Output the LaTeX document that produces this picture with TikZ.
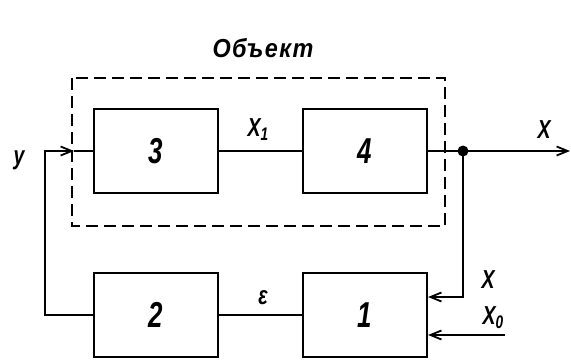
\documentclass[tikz,border=0pt]{standalone}
\usepackage{fontspec}
\setmainfont{Liberation Sans}
\usetikzlibrary{arrows.meta}
\begin{document}
\begin{tikzpicture}[x=1pt,y=-1pt,line width=2.2pt,
  blk/.style={draw,minimum width=124pt,minimum height=84pt,inner sep=0pt},
  num/.style={font=\fontsize{36}{36}\selectfont\bfseries\itshape,inner sep=0pt,xscale=0.72},
  lbl/.style={font=\fontsize{26}{26}\selectfont\bfseries\itshape,inner sep=0pt,xscale=0.75},
  arr/.style={-{Straight Barb[length=11pt,width=9pt,line width=1.8pt]}}]
\useasboundingbox (0,0) rectangle (571,361);
% dashed object frame
\draw[dash pattern=on 12pt off 6pt] (72,78) rectangle (445,226);
\node[font=\fontsize{26}{26}\selectfont\bfseries\itshape\addfontfeatures{LetterSpace=6},inner sep=0pt,xscale=0.9] (obj) at (263,48) {Объект};
% blocks
\node[blk] (b3) at (156,151) {};
\node[blk] (b4) at (365,151) {};
\node[blk] (b2) at (156,315) {};
\node[blk] (b1) at (365,315) {};
\node[num] (t3) at (b3) {3};
\node[num] (t4) at (b4) {4};
\node[num] (t2) at (b2) {2};
\node[num] (t1) at (b1) {1};
% connections
\coordinate (dot) at (463,151);
\coordinate (out) at (570,151);
\coordinate (yl) at (45,151);
\coordinate (yb) at (45,315);
\coordinate (fin) at (74,151);
\coordinate (fb) at (463,297);
\coordinate (x0s) at (505,335);
\draw (b3.east) -- (b4.west);
\draw (b4.east) -- (dot);
\draw[arr] (dot) -- (out);
\fill (dot) circle (5.5pt);
\draw (b2.east) -- (b1.west);
\draw[arr] (b2.west) -- (yb) -- (yl) -- (fin);
\draw (fin) -- (b3.west);
\draw[arr] (dot) -- (fb) -- (b1.east |- fb);
\draw[arr] (x0s) -- (b1.east |- x0s);
% labels
\node[lbl] (ly) at (19,160) {y};
\node[lbl] (lx1) at (258,130) {X\textsubscript{1}};
\node[lbl] (lxo) at (544,130) {X};
\node[lbl] (leps) at (263,298) {ε};
\node[lbl] (lx) at (488,280) {X};
\node[lbl] (lx0) at (493,318) {X\textsubscript{0}};
\end{tikzpicture}
\end{document}
